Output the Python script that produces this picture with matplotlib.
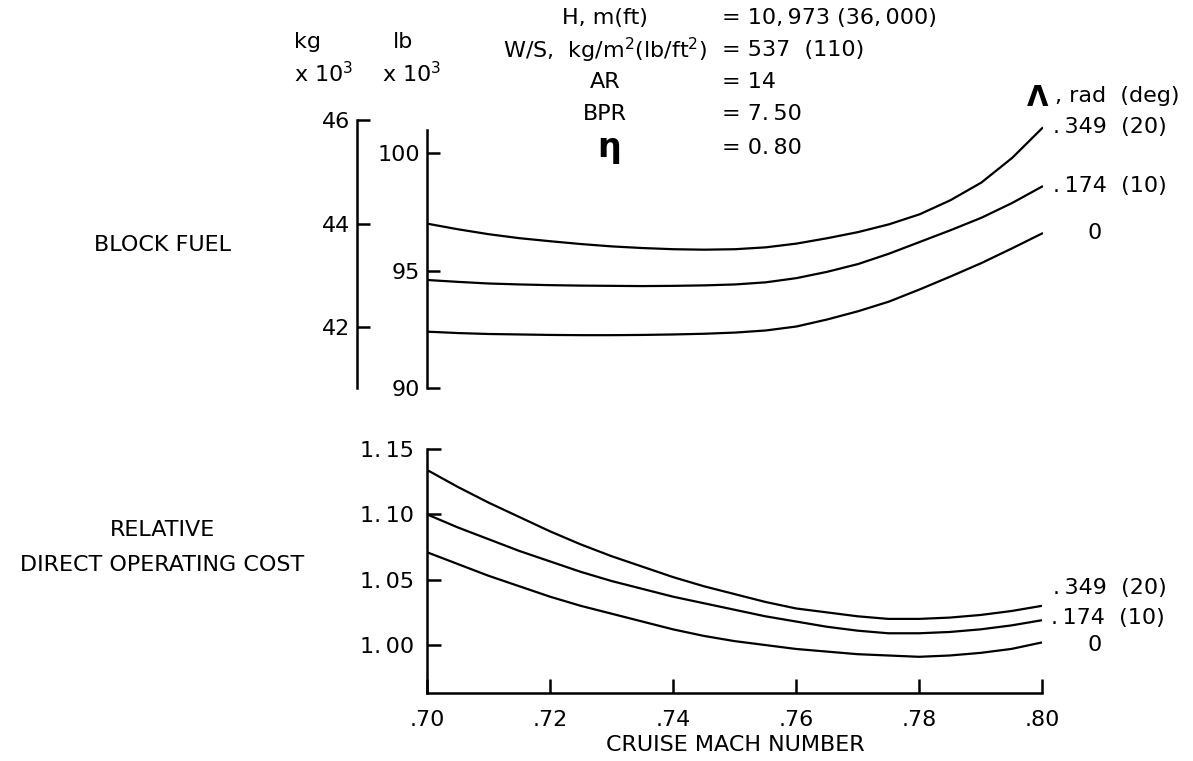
import matplotlib
matplotlib.use("Agg")
import matplotlib.pyplot as plt

plt.rcParams['font.family'] = ['DejaVu Sans']

# cruise Mach number grid
mach = [0.700, 0.705, 0.710, 0.715, 0.720, 0.725, 0.730, 0.735, 0.740, 0.745, 0.750,
        0.755, 0.760, 0.765, 0.770, 0.775, 0.780, 0.785, 0.790, 0.795, 0.800]

# block fuel, lb x 10^3, one list per sweep angle
fuel_sweep_0 = [92.40, 92.34, 92.30, 92.28, 92.26, 92.25, 92.25, 92.26, 92.28, 92.31, 92.36,
                92.45, 92.62, 92.92, 93.27, 93.68, 94.20, 94.75, 95.32, 95.95, 96.60]
fuel_sweep_10 = [94.60, 94.52, 94.45, 94.41, 94.38, 94.36, 94.35, 94.34, 94.35, 94.37, 94.41,
                 94.50, 94.68, 94.95, 95.28, 95.72, 96.22, 96.72, 97.25, 97.88, 98.60]
fuel_sweep_20 = [97.00, 96.76, 96.55, 96.38, 96.25, 96.13, 96.03, 95.96, 95.91, 95.89, 95.91,
                 95.99, 96.15, 96.38, 96.64, 96.97, 97.40, 98.00, 98.75, 99.80, 101.10]

# relative direct operating cost
doc_sweep_0 = [1.071, 1.062, 1.053, 1.045, 1.037, 1.030, 1.024, 1.018, 1.012, 1.007, 1.003,
               1.000, 0.997, 0.995, 0.993, 0.992, 0.991, 0.992, 0.994, 0.997, 1.002]
doc_sweep_10 = [1.100, 1.090, 1.081, 1.072, 1.064, 1.056, 1.049, 1.043, 1.037, 1.032, 1.027,
                1.022, 1.018, 1.014, 1.011, 1.009, 1.009, 1.010, 1.012, 1.015, 1.019]
doc_sweep_20 = [1.134, 1.121, 1.109, 1.098, 1.087, 1.077, 1.068, 1.060, 1.052, 1.045, 1.039,
                1.033, 1.028, 1.025, 1.022, 1.020, 1.020, 1.021, 1.023, 1.026, 1.030]

sweep_labels = ['0', '.\u2009174  (10)', '.\u2009349  (20)']

mach_ticks = [0.70, 0.72, 0.74, 0.76, 0.78, 0.80]
mach_ticklabels = ['.70', '.72', '.74', '.76', '.78', '.80']
lb_ticks = [90, 95, 100]
kg_ticks = [42, 44, 46]
doc_ticks = [1.00, 1.05, 1.10, 1.15]
doc_ticklabels = ['1.\u200900', '1.\u200905', '1.\u200910', '1.\u200915']

param_names = ['H, m(ft)', 'W/S,  kg/m$^2$(lb/ft$^2$)', 'AR', 'BPR']
param_values = ['= 10,\u2009973 (36,\u2009000)', '= 537  (110)', '= 14',
                '= 7.\u200950', '= 0.\u200980']

LB_TO_KG = 0.45359237

W, H = 1193, 761
fig = plt.figure(figsize=(W / 100, H / 100), dpi=100)


def fx(x):
    return x / W


def fy(y):
    return 1 - y / H


def lb2kg(v):
    return v * LB_TO_KG


def kg2lb(v):
    return v / LB_TO_KG


LW = 1.6
SPINE_W = 1.8
FS = 16

# ---- block fuel panel ----
ax_fuel = fig.add_axes([fx(427), fy(388), (1043 - 427) / W, (388 - 120) / H])
for vals in (fuel_sweep_0, fuel_sweep_10, fuel_sweep_20):
    ax_fuel.plot(mach, vals, color='black', lw=LW, solid_capstyle='butt')
ax_fuel.set_xlim(0.70, 0.80)
ax_fuel.set_ylim(90, kg2lb(46))
for s in ('top', 'right', 'bottom'):
    ax_fuel.spines[s].set_visible(False)
ax_fuel.spines['left'].set_linewidth(SPINE_W)
ax_fuel.spines['left'].set_bounds(90, 101)
ax_fuel.set_yticks(lb_ticks)
ax_fuel.set_yticklabels([str(t) for t in lb_ticks])
ax_fuel.tick_params(axis='y', direction='in', length=9, width=SPINE_W,
                    labelsize=FS, pad=5)
ax_fuel.tick_params(axis='x', bottom=False, labelbottom=False)
ax_fuel.patch.set_visible(False)

ax_kg = ax_fuel.secondary_yaxis(-70 / 616, functions=(lb2kg, kg2lb))
ax_kg.set_yticks(kg_ticks)
ax_kg.set_yticklabels([str(t) for t in kg_ticks])
ax_kg.spines['left'].set_linewidth(SPINE_W)
ax_kg.tick_params(axis='y', direction='in', length=9, width=SPINE_W,
                  labelsize=FS, pad=5)

# ---- direct operating cost panel ----
ax_doc = fig.add_axes([fx(427), fy(693), (1042 - 427) / W, (693 - 449) / H])
for vals in (doc_sweep_0, doc_sweep_10, doc_sweep_20):
    ax_doc.plot(mach, vals, color='black', lw=LW, solid_capstyle='butt')
ax_doc.set_xlim(0.70, 0.80)
ax_doc.set_ylim(0.9633, 1.15)
for s in ('top', 'right'):
    ax_doc.spines[s].set_visible(False)
for s in ('left', 'bottom'):
    ax_doc.spines[s].set_linewidth(SPINE_W)
ax_doc.set_xticks(mach_ticks)
ax_doc.set_xticklabels(mach_ticklabels)
ax_doc.set_yticks(doc_ticks)
ax_doc.set_yticklabels(doc_ticklabels)
ax_doc.tick_params(axis='both', direction='in', length=10, width=SPINE_W,
                   labelsize=FS)
ax_doc.tick_params(axis='x', pad=12)
ax_doc.tick_params(axis='y', pad=9)
ax_doc.patch.set_visible(False)

# ---- labels ----
fig.text(fx(162), fy(245), 'BLOCK FUEL', ha='center', va='center', fontsize=FS)
fig.text(fx(162), fy(530), 'RELATIVE', ha='center', va='center', fontsize=FS)
fig.text(fx(162), fy(565), 'DIRECT OPERATING COST', ha='center', va='center',
         fontsize=FS)
fig.text(fx(735), fy(745), 'CRUISE MACH NUMBER', ha='center', va='center',
         fontsize=FS)

fig.text(fx(308), fy(42), 'kg', ha='center', va='center', fontsize=FS)
fig.text(fx(324), fy(74), 'x 10$^3$', ha='center', va='center', fontsize=FS)
fig.text(fx(403), fy(42), 'lb', ha='center', va='center', fontsize=FS)
fig.text(fx(412), fy(74), 'x 10$^3$', ha='center', va='center', fontsize=FS)

# flight condition block
rows_y = [18, 50, 82, 114, 148]
for name, y in zip(param_names, rows_y):
    fig.text(fx(605), fy(y), name, ha='center', va='center', fontsize=FS)
fig.text(fx(609), fy(rows_y[4]), 'η', ha='center', va='center',
         fontsize=24, fontweight='bold')
for val, y in zip(param_values, rows_y):
    fig.text(fx(722), fy(y), val, ha='left', va='center', fontsize=FS)

# sweep angle key
fig.text(fx(1027), fy(98), 'Λ', ha='left', va='center', fontsize=20,
         fontweight='bold')
fig.text(fx(1055), fy(96), ', rad  (deg)', ha='left', va='center', fontsize=FS)

for lab, vals in zip(sweep_labels, (fuel_sweep_0, fuel_sweep_10, fuel_sweep_20)):
    if lab == '0':
        ax_fuel.annotate(lab, xy=(mach[-1], vals[-1]), xytext=(52, 0),
                         textcoords='offset pixels', ha='center', va='center',
                         fontsize=FS, annotation_clip=False)
    else:
        ax_fuel.annotate(lab, xy=(mach[-1], vals[-1]), xytext=(10, 0),
                         textcoords='offset pixels', ha='left', va='center',
                         fontsize=FS, annotation_clip=False)

fig.text(fx(1053), fy(588), sweep_labels[2], ha='left', va='center', fontsize=FS)
fig.text(fx(1051), fy(618), sweep_labels[1], ha='left', va='center', fontsize=FS)
fig.text(fx(1095), fy(645), sweep_labels[0], ha='center', va='center', fontsize=FS)

fig.savefig('out.png', dpi=100)
